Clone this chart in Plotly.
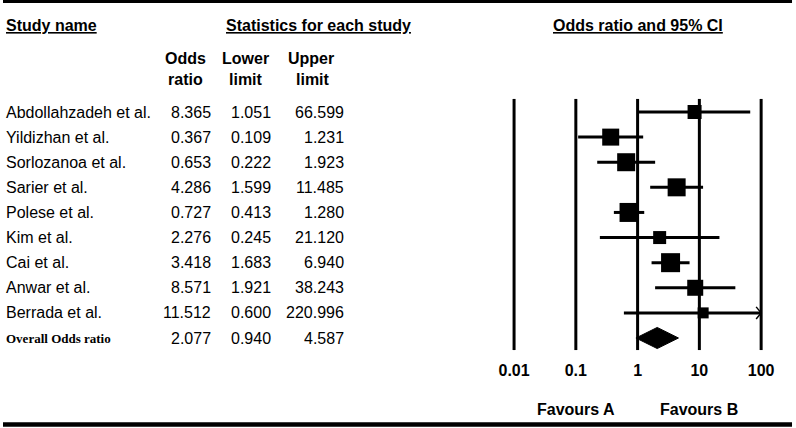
import math
import plotly.graph_objects as go

# ---------------- data ----------------
studies = ["Abdollahzadeh et al.", "Yildizhan et al.", "Sorlozanoa et al.", "Sarier et al.",
           "Polese et al.", "Kim et al.", "Cai et al.", "Anwar et al.", "Berrada et al."]
odds = [8.365, 0.367, 0.653, 4.286, 0.727, 2.276, 3.418, 8.571, 11.512]
lower = [1.051, 0.109, 0.222, 1.599, 0.413, 0.245, 1.683, 1.921, 0.600]
upper = [66.599, 1.231, 1.923, 11.485, 1.280, 21.120, 6.940, 38.243, 220.996]
overall_label = "Overall Odds ratio"
overall = [2.077, 0.940, 4.587]
tick_vals = [0.01, 0.1, 1, 10, 100]
tick_text = ["0.01", "0.1", "1", "10", "100"]

# ---------------- style ----------------
marker_sizes = [14, 17, 18, 18, 19, 13, 19, 16, 11]
W, H = 796, 428
FONT = "Liberation Sans, Arial, sans-serif"
SERIF = "Liberation Serif, Times New Roman, serif"
x_min, x_max = min(tick_vals), max(tick_vals)

def px_x(p):
    return p / W

def px_y(p):
    return 1 - p / H

fig = go.Figure()

# vertical reference lines
n = len(studies)
for v in tick_vals:
    fig.add_trace(go.Scatter(x=[v, v], y=[-0.52, n + 0.48], mode="lines",
                             line=dict(color="black", width=3), hoverinfo="skip"))

# CI lines and squares
for i in range(n):
    lo = max(lower[i], x_min)
    hi = min(upper[i], x_max)
    fig.add_trace(go.Scatter(x=[lo, hi], y=[i, i], mode="lines",
                             line=dict(color="black", width=3), hoverinfo="skip"))
    if upper[i] > x_max:
        d = 10 ** (-5 / 62)
        fig.add_trace(go.Scatter(x=[hi * d, hi, hi * d], y=[i - 0.24, i, i + 0.24], mode="lines",
                                 line=dict(color="black", width=1.5), hoverinfo="skip"))
    fig.add_trace(go.Scatter(x=[odds[i]], y=[i], mode="markers",
                             marker=dict(symbol="square", size=marker_sizes[i], color="black",
                                         line=dict(width=0)),
                             hoverinfo="skip", cliponaxis=False))

# overall diamond
h = 0.42
fig.add_trace(go.Scatter(x=[overall[1], overall[0], overall[2], overall[0], overall[1]],
                         y=[n, n - h, n, n + h, n], mode="lines", fill="toself",
                         fillcolor="black", line=dict(color="black", width=1), hoverinfo="skip"))

ann = []
def T(x, y, text, size=16, bold=False, anchor="left", family=FONT, yref="y"):
    ann.append(dict(x=x, y=y, xref="paper", yref=yref, text=("<b>%s</b>" % text) if bold else text,
                    showarrow=False, xanchor=anchor, yanchor="middle",
                    font=dict(family=family, size=size, color="black")))

# headers
UL = '<span style="text-decoration:underline">%s</span>'
T(px_x(1), px_y(25), UL % "Study name", bold=True, yref="paper")
T(px_x(316.5), px_y(25), UL % "Statistics for each study", bold=True, anchor="center", yref="paper")
T(px_x(637.5), px_y(25), UL % "Odds ratio and 95% CI", bold=True, anchor="center", yref="paper")
T(px_x(183), px_y(59), "Odds", bold=True, anchor="center", yref="paper")
T(px_x(183), px_y(79), "ratio", bold=True, anchor="center", yref="paper")
T(px_x(243), px_y(59), "Lower", bold=True, anchor="center", yref="paper")
T(px_x(244), px_y(79), "limit", bold=True, anchor="center", yref="paper")
T(px_x(309), px_y(59), "Upper", bold=True, anchor="center", yref="paper")
T(px_x(311), px_y(79), "limit", bold=True, anchor="center", yref="paper")

# rows
for i in range(n):
    T(px_x(1), i, studies[i])
    T(px_x(211), i, "%.3f" % odds[i], anchor="right")
    T(px_x(271), i, "%.3f" % lower[i], anchor="right")
    T(px_x(344), i, "%.3f" % upper[i], anchor="right")
T(px_x(1), n, overall_label, size=13, bold=True, family=SERIF)
T(px_x(211), n, "%.3f" % overall[0], anchor="right")
T(px_x(271), n, "%.3f" % overall[1], anchor="right")
T(px_x(344), n, "%.3f" % overall[2], anchor="right")

# favours
T(px_x(575), px_y(409), "Favours A", bold=True, anchor="center", yref="paper")
T(px_x(699), px_y(409), "Favours B", bold=True, anchor="center", yref="paper")

shapes = [
    dict(type="line", xref="paper", yref="paper", x0=0, x1=px_x(792), y0=px_y(1.2), y1=px_y(1.2),
         line=dict(color="black", width=3.5)),
    dict(type="line", xref="paper", yref="paper", x0=0, x1=px_x(792), y0=px_y(424.5), y1=px_y(424.5),
         line=dict(color="black", width=4.5)),
]

row_px = 226 / n
fig.update_layout(
    width=W, height=H, margin=dict(l=0, r=0, t=0, b=0),
    paper_bgcolor="white", plot_bgcolor="white", showlegend=False,
    annotations=ann, shapes=shapes,
    xaxis=dict(type="log", domain=[px_x(500), px_x(775)],
               range=[-2 - 13 / 62, 2 + 14 / 62], showgrid=False, zeroline=False,
               showline=False, tickvals=tick_vals, ticktext=tick_text, ticks="",
               tickfont=dict(family=FONT, size=16, color="black", weight="bold"),
               anchor="free", position=px_y(359), fixedrange=True),
    yaxis=dict(range=[(H - 112) / row_px, -112 / row_px], domain=[0, 1], visible=False,
               fixedrange=True),
)

fig.write_html("out.html", config={"displayModeBar": False, "staticPlot": True},
               post_script="document.body.style.margin='0';document.body.style.overflow='hidden';")
